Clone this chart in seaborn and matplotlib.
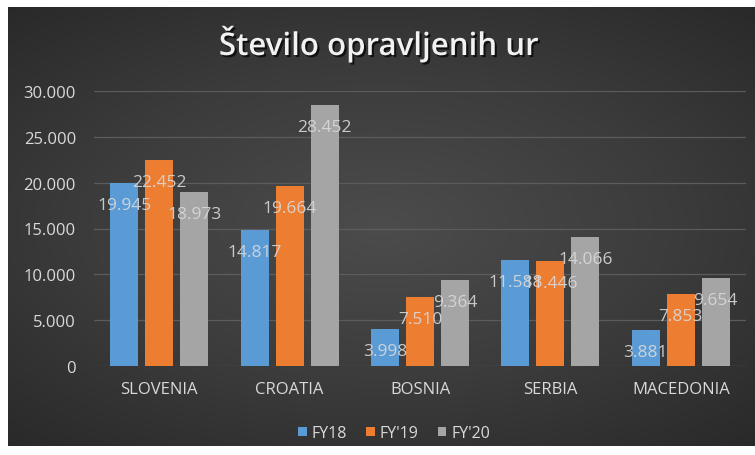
import numpy as np
import pandas as pd
import matplotlib
matplotlib.use("Agg")
import matplotlib.pyplot as plt
import matplotlib.patheffects as pe
import seaborn as sns

countries = ["SLOVENIA", "CROATIA", "BOSNIA", "SERBIA", "MACEDONIA"]
years = ["FY18", "FY'19", "FY'20"]
fy18 = [19945, 14817, 3998, 11588, 3881]
fy19 = [22452, 19664, 7510, 11446, 7853]
fy20 = [18973, 28452, 9364, 14066, 9654]
yticks = [0, 5000, 10000, 15000, 20000, 25000, 30000]

df = pd.DataFrame({
    "country": countries * 3,
    "year": [years[0]] * 5 + [years[1]] * 5 + [years[2]] * 5,
    "hours": fy18 + fy19 + fy20,
})

sns.set_style("dark")
plt.rcParams["font.family"] = ["Open Sans", "DejaVu Sans"]

fig = plt.figure(figsize=(7.55, 4.56), dpi=100, facecolor="white")

# dark background panel with a soft radial gradient
bg = fig.add_axes([8 / 755, 9 / 456, 1 - 8 / 755, 1 - 17 / 456])
yy, xx = np.mgrid[-1:1:200j, -1:1:300j]
r = np.sqrt((xx * 0.9) ** 2 + (yy * 1.0) ** 2)
bg.imshow(r, cmap=sns.blend_palette(["#4c4c4c", "#3c3c3c", "#282828"], as_cmap=True),
          vmin=0, vmax=1.4, aspect="auto", extent=[0, 1, 0, 1])
bg.set_axis_off()

ax = fig.add_axes([94 / 755, 89 / 456, 652 / 755, 275 / 456])
ax.set_facecolor("none")
sns.barplot(data=df, x="country", y="hours", hue="year", ax=ax,
            palette=["#5B9BD5", "#ED7D31", "#A5A5A5"], saturation=1,
            width=0.805, gap=0.2, edgecolor="none", linewidth=0)

ax.set_ylim(0, 30000)
ax.set_yticks(yticks)
ax.set_yticklabels([f"{v:,}".replace(",", ".") for v in yticks])
ax.set_xlabel("")
ax.set_ylabel("")
ax.grid(axis="y", color="#5c5c5c", linewidth=0.9)
ax.grid(axis="x", visible=False)
ax.set_axisbelow(True)
for s in ax.spines.values():
    s.set_visible(False)
ax.tick_params(axis="y", length=0, pad=13, labelsize=12, labelcolor="#d9d9d9")
ax.tick_params(axis="x", length=0, pad=11, labelsize=12, labelcolor="#d9d9d9")

# data labels, a bit inside the top of each bar
for cont in ax.containers:
    for bar, val in zip(cont, cont.datavalues):
        ax.annotate(f"{int(val):,}".replace(",", "."),
                    (bar.get_x() + bar.get_width() / 2, bar.get_height()),
                    xytext=(0, -22), textcoords="offset pixels",
                    ha="center", va="center", fontsize=12.5,
                    color="#d9d9d9", alpha=0.9)

leg = ax.legend(loc="center", bbox_to_anchor=(394 / 755, 22 / 456),
                bbox_transform=fig.transFigure, ncol=3, frameon=False,
                handlelength=0.55, handleheight=0.55, handletextpad=0.3,
                columnspacing=1.2, fontsize=11.5)
for t in leg.get_texts():
    t.set_color("#d9d9d9")

fig.text(379 / 755, 1 - 45 / 456, "Število opravljenih ur", ha="center", va="center",
         fontsize=22.5, color="#f2f2f2", fontweight="semibold",
         path_effects=[pe.withSimplePatchShadow(offset=(1.5, -1.5),
                                                shadow_rgbFace="black", alpha=0.7)])

fig.savefig("out.png", dpi=100, facecolor="white")
